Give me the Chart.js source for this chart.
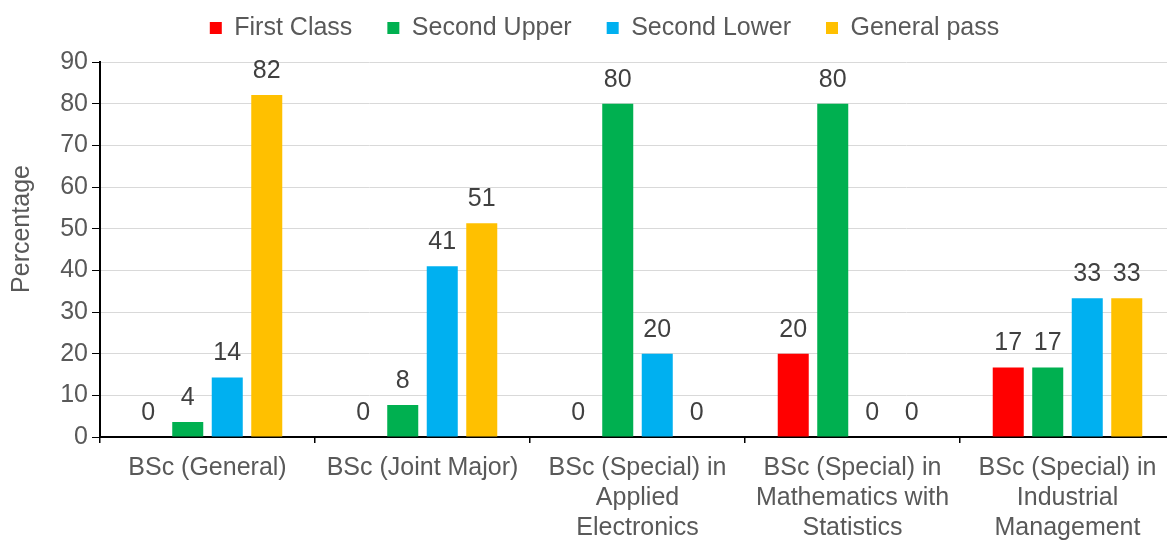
<!DOCTYPE html>
<html>
<head>
<meta charset="utf-8">
<script src="https://cdn.jsdelivr.net/npm/chart.js@4/dist/chart.umd.min.js"></script>
<style>
  html, body { margin: 0; padding: 0; background: #fff; overflow: hidden; }
  #wrap { width: 1175px; height: 542px; }
</style>
</head>
<body>
<div id="wrap"><canvas id="chart" width="1175" height="542"></canvas></div>
<script>
// degree programmes (x categories)
const programmes = [
  "BSc (General)",
  "BSc (Joint Major)",
  ["BSc (Special) in", "Applied", "Electronics"],
  ["BSc (Special) in", "Mathematics with", "Statistics"],
  ["BSc (Special) in", "Industrial", "Management"]
];

// percentage of graduates per class
const firstClass  = [0, 0, 0, 20, 16.7];
const secondUpper = [3.6, 7.7, 80, 80, 16.7];
const secondLower = [14.3, 41.0, 20, 0, 33.3];
const generalPass = [82.1, 51.3, 0, 0, 33.3];

const yMin = 0, yMax = 90, yStep = 10;

const FONT = "'Liberation Sans', Arial, sans-serif";
Chart.defaults.font.family = FONT;
Chart.defaults.font.size = 25;
Chart.defaults.color = "#595959";

// value labels above each bar
const barLabels = {
  id: "barLabels",
  afterDatasetsDraw(chart) {
    const ctx = chart.ctx;
    ctx.save();
    ctx.font = "25px " + FONT;
    ctx.fillStyle = "#404040";
    ctx.textAlign = "center";
    ctx.textBaseline = "middle";
    chart.data.datasets.forEach((ds, i) => {
      chart.getDatasetMeta(i).data.forEach((bar, j) => {
        ctx.fillText(Math.round(ds.data[j]), bar.x, bar.y - 24);
      });
    });
    ctx.restore();
  }
};

// y axis title, placed like the original
const yTitle = {
  id: "yTitle",
  afterDraw(chart) {
    const ctx = chart.ctx;
    ctx.save();
    ctx.translate(22, 229);
    ctx.rotate(-Math.PI / 2);
    ctx.font = "25px " + FONT;
    ctx.fillStyle = "#595959";
    ctx.textAlign = "center";
    ctx.textBaseline = "middle";
    ctx.fillText("Percentage", 0, 0);
    ctx.restore();
  }
};

// move the legend up and a little to the right
const legendPos = {
  id: "legendPos",
  afterLayout(chart) {
    const lg = chart.legend;
    lg.left += 17;
    lg.right += 17;
    lg.top = -19.5;
  }
};

new Chart(document.getElementById("chart"), {
  type: "bar",
  data: {
    labels: programmes,
    datasets: [
      { label: "First Class", data: firstClass, backgroundColor: "#FF0000" },
      { label: "Second Upper", data: secondUpper, backgroundColor: "#00B050" },
      { label: "Second Lower", data: secondLower, backgroundColor: "#00B0F0" },
      { label: "General pass", data: generalPass, backgroundColor: "#FFC000" }
    ]
  },
  options: {
    responsive: false,
    animation: false,
    datasets: { bar: { categoryPercentage: 0.735, barPercentage: 0.785, borderWidth: 0 } },
    layout: { padding: 0 },
    plugins: {
      tooltip: { enabled: false },
      legend: {
        position: "top",
        maxHeight: 62,
        labels: { boxWidth: 12, boxHeight: 12, padding: 35, color: "#595959", font: { size: 25 } }
      }
    },
    scales: {
      x: {
        ticks: { color: "#595959", font: { size: 25 }, padding: 10, maxRotation: 0, autoSkip: false },
        grid: { drawOnChartArea: false, tickColor: "#000", tickLength: 6, lineWidth: 1.5 },
        border: { color: "#000", width: 2 },
        afterFit: s => { s.height = 105; }
      },
      y: {
        min: yMin,
        max: yMax,
        ticks: { stepSize: yStep, color: "#595959", font: { size: 25 }, padding: 4 },
        grid: { color: "#d9d9d9", lineWidth: 1, tickColor: "#000", tickLength: 8 },
        border: { color: "#000", width: 2 },
        afterFit: s => { s.width = 100; }
      }
    }
  },
  plugins: [barLabels, yTitle, legendPos]
});
</script>
</body>
</html>
